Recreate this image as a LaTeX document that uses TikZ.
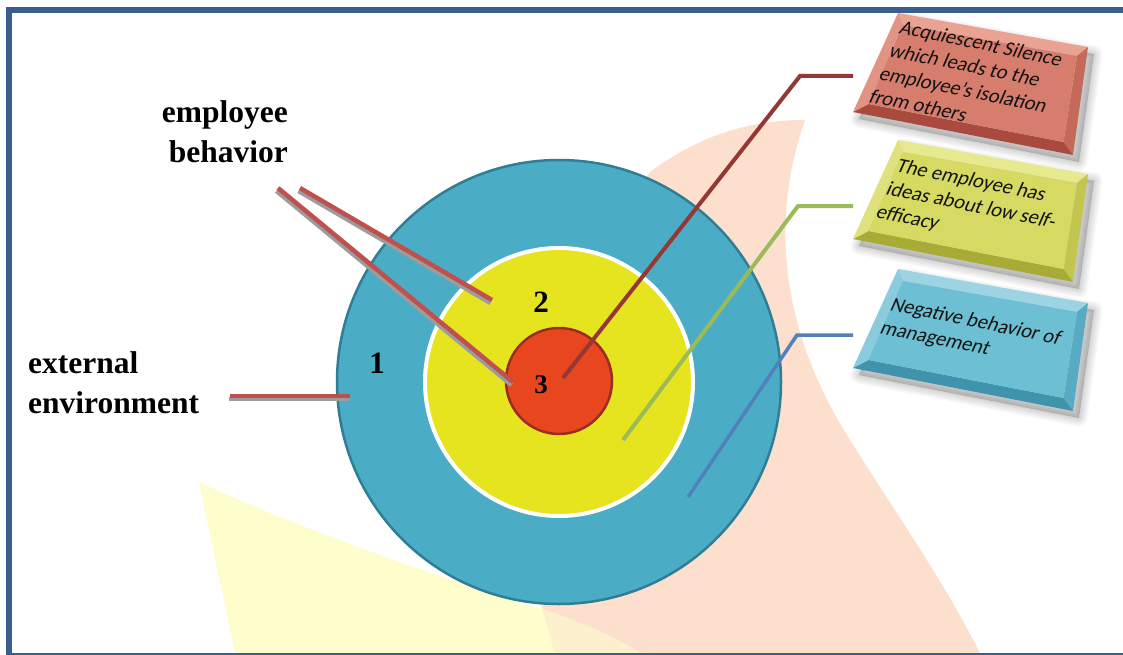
\documentclass[tikz,border=0pt]{standalone}
\usepackage{fontspec}
\setmainfont{Liberation Serif}
\newfontfamily\boxfont{Carlito}
\usetikzlibrary{calc}
\definecolor{frameblue}{HTML}{3A5F8F}
\definecolor{peach}{HTML}{FDDFCE}
\definecolor{paleyel}{HTML}{FEFDCC}
\definecolor{overlapc}{HTML}{FDF0CD}
\definecolor{ringblue}{HTML}{4BACC6}
\definecolor{ringblueedge}{HTML}{2F7E96}
\definecolor{ringyellow}{HTML}{E6E31F}
\definecolor{coreorange}{HTML}{E8461F}
\definecolor{coreedge}{HTML}{9A2D22}
\definecolor{leaderred}{HTML}{C0504D}
\definecolor{leadershadow}{HTML}{9C9C9C}
\definecolor{darkred}{HTML}{953735}
\definecolor{olivegreen}{HTML}{9BBB59}
\definecolor{steelblue}{HTML}{4F81BD}
% box colours
\definecolor{rface}{HTML}{D77D6D}\definecolor{rtop}{HTML}{EAA293}\definecolor{rleft}{HTML}{E29484}\definecolor{rright}{HTML}{C56A5A}\definecolor{rbot}{HTML}{A84B3E}
\definecolor{yface}{HTML}{D6D962}\definecolor{ytop}{HTML}{E7E98F}\definecolor{yleft}{HTML}{DFE27C}\definecolor{yright}{HTML}{C3C64E}\definecolor{ybot}{HTML}{A8AC36}
\definecolor{bface}{HTML}{6DBFD4}\definecolor{btop}{HTML}{9CD4E3}\definecolor{bleft}{HTML}{8ACBDD}\definecolor{bright}{HTML}{58ABC2}\definecolor{bbot}{HTML}{3F93AB}

\newcommand{\glassbox}[6]{%
  \begin{scope}[shift={(0,#1)}]
    \foreach \w in {2,5,8,11,14,17}
      \filldraw[black, opacity=0.028, line width=\w, line join=round, shift={(6,7)}]
        (898,13) -- (1088,47) -- (1073,155) -- (853,112) -- cycle;
    \fill[#3] (898,13) -- (1088,47) -- (1077,56) -- (903,25) -- cycle;
    \fill[#5] (1088,47) -- (1073,155) -- (1063.5,142) -- (1077,56) -- cycle;
    \fill[#6] (1073,155) -- (853,112) -- (868.5,104) -- (1063.5,142) -- cycle;
    \fill[#4] (853,112) -- (898,13) -- (903,25) -- (868.5,104) -- cycle;
    \fill[#2] (903,25) -- (1077,56) -- (1063.5,142) -- (868.5,104) -- cycle;
  \end{scope}}

\begin{document}
\begin{tikzpicture}[x=1pt,y=-1pt,
  lab/.style={font=\bfseries\fontsize{31.5}{40}\selectfont, inner sep=0},
  num/.style={font=\bfseries\fontsize{31}{31}\selectfont, inner sep=0, anchor=base},
  boxtext/.style={font=\boxfont\fontsize{20.5}{24.5}\selectfont, text=black!92, inner sep=0, align=left, anchor=north west, transform shape},
  leader/.style={line width=4.5, draw=leaderred, line cap=butt,
     preaction={draw=leadershadow, line width=4.5, transform canvas={shift={(-1.5,3)}}}},
  conn/.style={line width=4, line join=miter, line cap=butt},
  ring/.style={circle, inner sep=0, outer sep=0}
]
\clip (0,0) rectangle (1123,655);
\fill[white] (0,0) rectangle (1123,655);

% background swooshes
\def\peachpath{(557,662) -- (540,600) .. controls (560,420) and (600,250) .. (650,172) .. controls (700,135) and (750,120) .. (805,120) .. controls (770,220) and (780,330) .. (850,440) .. controls (900,520) and (950,590) .. (984,662) -- cycle}
\def\yelpath{(199,482) .. controls (280,520) and (400,565) .. (545,610) .. controls (590,625) and (625,642) .. (655,662) -- (237,662) -- cycle}
\fill[peach] \peachpath;
\fill[paleyel] \yelpath;
\begin{scope}
  \clip \yelpath;
  \fill[overlapc] \peachpath;
\end{scope}

% target
\node[ring, fill=ringblue, draw=ringblueedge, line width=2.5, minimum size=444pt] (outer) at (559,382) {};
\node[ring, fill=ringyellow, draw=white, line width=4, minimum size=268pt] (middle) at (559,382) {};
\node[ring, fill=coreorange, draw=coreedge, line width=2.5, minimum size=106pt] (core) at (559,381) {};

% coordinates
\coordinate (eb1) at (278,188);
\coordinate (eb2) at (300,188);
\coordinate (p3) at (513,382);
\coordinate (p2) at (492,300);
\coordinate (ee) at (230,396);
\coordinate (p1) at (350,396);
\coordinate (c3) at (563,378);
\coordinate (k1) at (800,76);
\coordinate (t1) at (853,76);
\coordinate (c2) at (623,440);
\coordinate (k2) at (798,206);
\coordinate (t2) at (853,206);
\coordinate (c1) at (688,497);
\coordinate (k3) at (797,335);
\coordinate (t3) at (853,335);

% leader lines
\draw[leader] (eb2) -- (p2);
\draw[leader] (eb1) -- (p3);
\draw[leader] (ee) -- (p1);

% right connectors
\draw[conn, darkred] (c3) -- (k1) -- (t1);
\draw[conn, olivegreen] (c2) -- (k2) -- (t2);
\draw[conn, steelblue, line width=3.5] (c1) -- (k3) -- (t3);

% boxes
\glassbox{0}{rface}{rtop}{rleft}{rright}{rbot}
\glassbox{127}{yface}{ytop}{yleft}{yright}{ybot}
\glassbox{256}{bface}{btop}{bleft}{bright}{bbot}

\begin{scope}[shift={(898,33)}, rotate=-11.5, xslant=0.22]
  \node[boxtext] (rtext) at (0,-16) {\rule{0pt}{16pt}Acquiescent Silence\\which leads to the\\employee’s isolation\\from others};
\end{scope}
\begin{scope}[shift={(895,171)}, rotate=-11.5, xslant=0.22]
  \node[boxtext] (ytext) at (0,-16) {\rule{0pt}{16pt}The employee has\\ideas about low self-\\efficacy};
\end{scope}
\begin{scope}[shift={(889,310)}, rotate=-11.5, xslant=0.22]
  \node[boxtext] (btext) at (0,-16) {\rule{0pt}{16pt}Negative behavior of\\management};
\end{scope}

% labels
\node[lab, align=right, anchor=north east] (eb) at (288,97) {\rule{0pt}{25pt}employee\\behavior};
\node[lab, align=left, anchor=north west] (ee) at (28,348) {\rule{0pt}{25pt}external\\environment};
\node[num] (n1) at (377,373) {1};
\node[num] (n2) at (541,312) {2};
\node[num, font=\bfseries\fontsize{27}{27}\selectfont] (n3) at (541,393) {3};

% frame
\draw[frameblue, line width=6] (9,662) -- (9,10) -- (1130,10);
\draw[frameblue, line width=3] (6,654) -- (1130,654);
\end{tikzpicture}
\end{document}
